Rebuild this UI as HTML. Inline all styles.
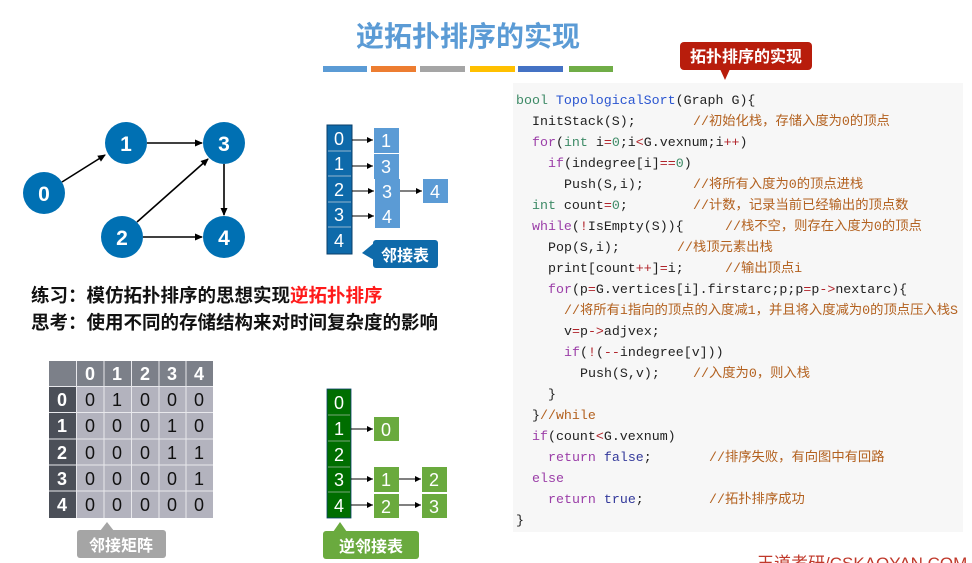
<!DOCTYPE html>
<html><head><meta charset="utf-8"><style>
html,body{margin:0;padding:0;background:#fff;width:972px;height:563px;overflow:hidden}
svg{display:block}
.cj{font-family:"Liberation Sans","Noto Sans CJK SC",sans-serif}
.code{font-family:"Liberation Mono","Noto Sans CJK SC",monospace;font-size:13.3px;fill:#222}
.k{fill:#9b3ea8}.t{fill:#3d8a66}.f{fill:#2a55d0}.o{fill:#b0232a}.n{fill:#3d8a66}.c{fill:#b3611f}.b{fill:#33399b}
</style></head><body>
<svg width="972" height="563" viewBox="0 0 972 563" xmlns="http://www.w3.org/2000/svg">
<defs>
<marker id="ah" markerWidth="8" markerHeight="8" refX="7" refY="4" orient="auto" markerUnits="userSpaceOnUse"><path d="M0,0.5 L8,4 L0,7.5 z" fill="#000"/></marker>
<marker id="as" markerWidth="6" markerHeight="6" refX="6" refY="3" orient="auto" markerUnits="userSpaceOnUse"><path d="M0,0 L6,3 L0,6 z" fill="#000"/></marker>
</defs>
<!-- title -->
<text x="468" y="46" text-anchor="middle" class="cj" font-size="28" font-weight="bold" fill="#5b9bd5">逆拓扑排序的实现</text>
<rect x="323" y="66" width="44" height="6" fill="#5b9bd5"/>
<rect x="371" y="66" width="45" height="6" fill="#ed7d31"/>
<rect x="420" y="66" width="45" height="6" fill="#a5a5a5"/>
<rect x="470" y="66" width="45" height="6" fill="#ffc000"/>
<rect x="518" y="66" width="45" height="6" fill="#4472c4"/>
<rect x="569" y="66" width="44" height="6" fill="#70ad47"/>
<!-- code box -->
<rect x="513" y="83" width="450" height="449" fill="#f7f7f7"/>
<rect x="680" y="42" width="132" height="28" rx="4" fill="#b81d0c"/>
<path d="M720,69 L730,69 L725,80 z" fill="#b81d0c"/>
<text x="746" y="62" text-anchor="middle" class="cj" font-size="16" font-weight="bold" fill="#fff">拓扑排序的实现</text>
<g class="code">
<text x="516" y="104"><tspan class="t">bool</tspan> <tspan class="f">TopologicalSort</tspan>(Graph G){</text>
<text x="532" y="125">InitStack(S);</text><text x="693" y="125" class="c">//初始化栈，存储入度为0的顶点</text>
<text x="532" y="146"><tspan class="k">for</tspan>(<tspan class="t">int</tspan> i<tspan class="o">=</tspan><tspan class="n">0</tspan>;i<tspan class="o">&lt;</tspan>G.vexnum;i<tspan class="o">++</tspan>)</text>
<text x="548" y="167"><tspan class="k">if</tspan>(indegree[i]<tspan class="o">==</tspan><tspan class="n">0</tspan>)</text>
<text x="564" y="188">Push(S,i);</text><text x="693" y="188" class="c">//将所有入度为0的顶点进栈</text>
<text x="532" y="209"><tspan class="t">int</tspan> count<tspan class="o">=</tspan><tspan class="n">0</tspan>;</text><text x="693" y="209" class="c">//计数，记录当前已经输出的顶点数</text>
<text x="532" y="230"><tspan class="k">while</tspan>(<tspan class="o">!</tspan>IsEmpty(S)){</text><text x="725" y="230" class="c">//栈不空，则存在入度为0的顶点</text>
<text x="548" y="251">Pop(S,i);</text><text x="677" y="251" class="c">//栈顶元素出栈</text>
<text x="548" y="272">print[count<tspan class="o">++</tspan>]<tspan class="o">=</tspan>i;</text><text x="725" y="272" class="c">//输出顶点i</text>
<text x="548" y="293"><tspan class="k">for</tspan>(p<tspan class="o">=</tspan>G.vertices[i].firstarc;p;p<tspan class="o">=</tspan>p<tspan class="o">-&gt;</tspan>nextarc){</text>
<text x="564" y="314" class="c" textLength="394" lengthAdjust="spacingAndGlyphs">//将所有i指向的顶点的入度减1，并且将入度减为0的顶点压入栈S</text>
<text x="564" y="335">v<tspan class="o">=</tspan>p<tspan class="o">-&gt;</tspan>adjvex;</text>
<text x="564" y="356"><tspan class="k">if</tspan>(<tspan class="o">!</tspan>(<tspan class="o">--</tspan>indegree[v]))</text>
<text x="580" y="377">Push(S,v);</text><text x="693" y="377" class="c">//入度为0，则入栈</text>
<text x="548" y="398">}</text>
<text x="532" y="419">}<tspan class="c">//while</tspan></text>
<text x="532" y="440"><tspan class="k">if</tspan>(count<tspan class="o">&lt;</tspan>G.vexnum)</text>
<text x="548" y="461"><tspan class="k">return</tspan>  <tspan class="b">false</tspan>;</text><text x="709" y="461" class="c">//排序失败，有向图中有回路</text>
<text x="532" y="482"><tspan class="k">else</tspan></text>
<text x="548" y="503"><tspan class="k">return</tspan>  <tspan class="b">true</tspan>;</text><text x="709" y="503" class="c">//拓扑排序成功</text>
<text x="516" y="524">}</text>
</g>
<text x="757" y="569" class="cj" font-size="17" fill="#c0392b">王道考研/CSKAOYAN.COM</text>
<!-- graph -->
<g stroke="#000" stroke-width="1.6" fill="none">
<line x1="62" y1="182" x2="105" y2="155" marker-end="url(#ah)"/>
<line x1="147" y1="143" x2="202" y2="143" marker-end="url(#ah)"/>
<line x1="137" y1="222" x2="208" y2="159" marker-end="url(#ah)"/>
<line x1="143" y1="237" x2="202" y2="237" marker-end="url(#ah)"/>
<line x1="224" y1="164" x2="224" y2="215" marker-end="url(#ah)"/>
</g>
<g fill="#0070b3">
<circle cx="44" cy="193" r="21"/><circle cx="126" cy="143" r="21"/><circle cx="224" cy="143" r="21"/><circle cx="122" cy="237" r="21"/><circle cx="224" cy="237" r="21"/>
</g>
<g class="cj" font-size="21" font-weight="bold" fill="#fff" text-anchor="middle">
<text x="44" y="201">0</text><text x="126" y="151">1</text><text x="224" y="151">3</text><text x="122" y="245">2</text><text x="224" y="245">4</text>
</g>
<!-- adjacency list -->
<rect x="327" y="125" width="25" height="129" fill="#0e6aaa" stroke="#0a3f6a"/>
<g stroke="#7aa6c8" stroke-width="1.2"><line x1="328" y1="151" x2="351" y2="151"/><line x1="328" y1="176" x2="351" y2="176"/><line x1="328" y1="202" x2="351" y2="202"/><line x1="328" y1="227" x2="351" y2="227"/></g>
<g class="cj" font-size="18" fill="#fff" text-anchor="middle">
<text x="339" y="145">0</text><text x="339" y="170">1</text><text x="339" y="196">2</text><text x="339" y="221">3</text><text x="339" y="247">4</text>
</g>
<g fill="#5b9bd5"><rect x="374" y="128" width="25" height="25"/><rect x="374" y="154" width="25" height="25"/><rect x="375" y="179" width="25" height="25"/><rect x="423" y="179" width="25" height="24"/><rect x="375" y="204" width="25" height="24"/></g>
<g class="cj" font-size="18" fill="#fff" text-anchor="middle">
<text x="386" y="147">1</text><text x="386" y="173">3</text><text x="387" y="198">3</text><text x="435" y="198">4</text><text x="387" y="223">4</text>
</g>
<g stroke="#000" stroke-width="1"><line x1="352" y1="140" x2="373" y2="140" marker-end="url(#as)"/><line x1="352" y1="166" x2="373" y2="166" marker-end="url(#as)"/><line x1="352" y1="191" x2="374" y2="191" marker-end="url(#as)"/><line x1="400" y1="191" x2="422" y2="191" marker-end="url(#as)"/><line x1="352" y1="216" x2="374" y2="216" marker-end="url(#as)"/></g>
<rect x="373" y="240" width="65" height="28" rx="3" fill="#0e6aaa"/>
<path d="M374,243 L362,253 L374,260 z" fill="#0e6aaa"/>
<text x="405" y="261" text-anchor="middle" class="cj" font-size="16" font-weight="bold" fill="#fff">邻接表</text>
<!-- practice text -->
<text x="31" y="302" class="cj" font-size="18.5" font-weight="bold" fill="#111">练习：模仿拓扑排序的思想实现<tspan fill="#ff1a1a">逆拓扑排序</tspan></text>
<text x="31" y="329" class="cj" font-size="18.5" font-weight="bold" fill="#111">思考：使用不同的存储结构来对时间复杂度的影响</text>
<!-- matrix -->
<rect x="49" y="361" width="164" height="157" fill="#fff"/>
<g>
<rect x="49" y="361" width="27" height="25" fill="#7c8089"/>
<rect x="77" y="361" width="136" height="25" fill="#7c8089"/>
<rect x="49" y="387" width="27" height="131" fill="#4b4f58"/>
<rect x="77" y="387" width="136" height="131" fill="#b3b3be"/>
</g>
<g stroke="#e8e8ec" stroke-width="1">
<line x1="76.5" y1="361" x2="76.5" y2="518"/><line x1="104" y1="361" x2="104" y2="518"/><line x1="131.5" y1="361" x2="131.5" y2="518"/><line x1="159" y1="361" x2="159" y2="518"/><line x1="186" y1="361" x2="186" y2="518"/>
<line x1="49" y1="386.5" x2="213" y2="386.5"/><line x1="49" y1="412.5" x2="213" y2="412.5"/><line x1="49" y1="439" x2="213" y2="439"/><line x1="49" y1="465" x2="213" y2="465"/><line x1="49" y1="491" x2="213" y2="491"/>
</g>
<g class="cj" font-size="18" text-anchor="middle">
<g fill="#fff" font-weight="bold"><text x="90" y="380">0</text><text x="117" y="380">1</text><text x="145" y="380">2</text><text x="172" y="380">3</text><text x="199" y="380">4</text>
<text x="62" y="406">0</text><text x="62" y="432">1</text><text x="62" y="459">2</text><text x="62" y="485">3</text><text x="62" y="511">4</text></g>
<g fill="#111">
<text x="90" y="406">0</text><text x="117" y="406">1</text><text x="145" y="406">0</text><text x="172" y="406">0</text><text x="199" y="406">0</text>
<text x="90" y="432">0</text><text x="117" y="432">0</text><text x="145" y="432">0</text><text x="172" y="432">1</text><text x="199" y="432">0</text>
<text x="90" y="459">0</text><text x="117" y="459">0</text><text x="145" y="459">0</text><text x="172" y="459">1</text><text x="199" y="459">1</text>
<text x="90" y="485">0</text><text x="117" y="485">0</text><text x="145" y="485">0</text><text x="172" y="485">0</text><text x="199" y="485">1</text>
<text x="90" y="511">0</text><text x="117" y="511">0</text><text x="145" y="511">0</text><text x="172" y="511">0</text><text x="199" y="511">0</text>
</g></g>
<rect x="77" y="530" width="89" height="28" rx="3" fill="#a5a5a5"/>
<path d="M100,531 L107,522 L114,531 z" fill="#a5a5a5"/>
<text x="121" y="551" text-anchor="middle" class="cj" font-size="16" font-weight="bold" fill="#fff">邻接矩阵</text>
<!-- inverse adjacency list -->
<rect x="327" y="389" width="24" height="129" fill="#006e00" stroke="#0a3f6a" stroke-width="0.8"/>
<g stroke="#5f9a5f" stroke-width="1.2"><line x1="328" y1="415" x2="350" y2="415"/><line x1="328" y1="441" x2="350" y2="441"/><line x1="328" y1="467" x2="350" y2="467"/><line x1="328" y1="492" x2="350" y2="492"/></g>
<g class="cj" font-size="18" fill="#fff" text-anchor="middle">
<text x="339" y="409">0</text><text x="339" y="435">1</text><text x="339" y="461">2</text><text x="339" y="486">3</text><text x="339" y="512">4</text>
</g>
<g fill="#6aaa3e"><rect x="374" y="417" width="25" height="24"/><rect x="374" y="467" width="25" height="25"/><rect x="422" y="467" width="25" height="25"/><rect x="374" y="494" width="25" height="24"/><rect x="422" y="494" width="25" height="24"/></g>
<g class="cj" font-size="18" fill="#fff" text-anchor="middle">
<text x="386" y="436">0</text><text x="386" y="486">1</text><text x="434" y="486">2</text><text x="386" y="513">2</text><text x="434" y="513">3</text>
</g>
<g stroke="#000" stroke-width="1"><line x1="351" y1="429" x2="373" y2="429" marker-end="url(#as)"/><line x1="351" y1="479" x2="373" y2="479" marker-end="url(#as)"/><line x1="399" y1="479" x2="421" y2="479" marker-end="url(#as)"/><line x1="351" y1="505" x2="373" y2="505" marker-end="url(#as)"/><line x1="399" y1="505" x2="421" y2="505" marker-end="url(#as)"/></g>
<rect x="323" y="531" width="96" height="28" rx="3" fill="#6aaa3e"/>
<path d="M333,532 L340,522 L347,532 z" fill="#6aaa3e"/>
<text x="371" y="552" text-anchor="middle" class="cj" font-size="16" font-weight="bold" fill="#fff">逆邻接表</text>
</svg>
</body></html>
